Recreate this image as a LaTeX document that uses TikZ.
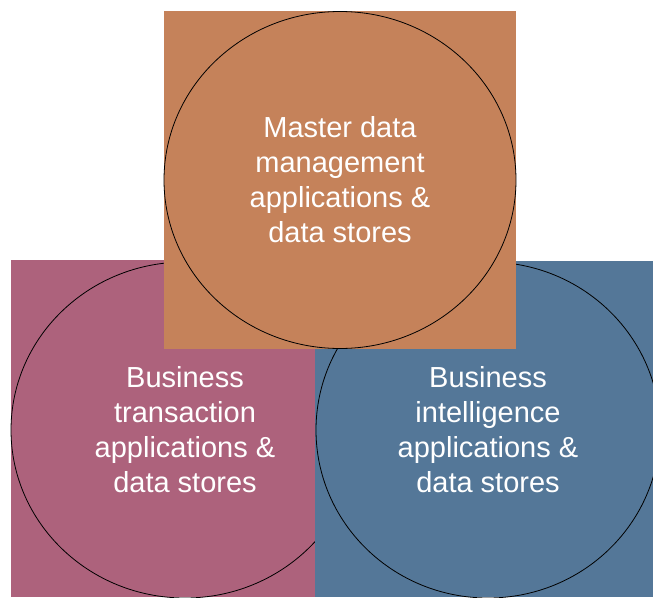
\documentclass[tikz,border=0pt]{standalone}
\usepackage{fontspec}
\setsansfont{Liberation Sans}
\usetikzlibrary{shapes.geometric}

\definecolor{bt_fill}{RGB}{173,98,124}
\definecolor{bi_fill}{RGB}{84,119,152}
\definecolor{mdm_fill}{RGB}{197,130,90}

\begin{document}
\begin{tikzpicture}[x=1pt, y=-1pt,
		area_style/.style={ellipse,draw=black,line width=0.8pt,inner sep=0pt,outer sep=0pt,
			text=white,align=center,font=\sffamily\fontsize{29}{35}\selectfont}]

		\useasboundingbox (0,0) rectangle (653,597);
		\clip (0,0) rectangle (653,597);

		% business transactions
		\fill[bt_fill] (11,260) rectangle (315,597);
		\node[area_style,minimum width=348pt,minimum height=336pt] (bt) at (185,430)
			{Business\\transaction\\applications \&\\data stores};

		% business intelligence
		\fill[bi_fill] (315,261) rectangle (653,597);
		\node[area_style,minimum width=344pt,minimum height=336pt] (bi) at (488,430)
			{Business\\intelligence\\applications \&\\data stores};

		% master data
		\fill[mdm_fill] (164,11) rectangle (516,349);
		\node[area_style,minimum width=352pt,minimum height=337pt] (mdm) at (340,180)
			{Master data\\management\\applications \&\\data stores};

\end{tikzpicture}
\end{document}
